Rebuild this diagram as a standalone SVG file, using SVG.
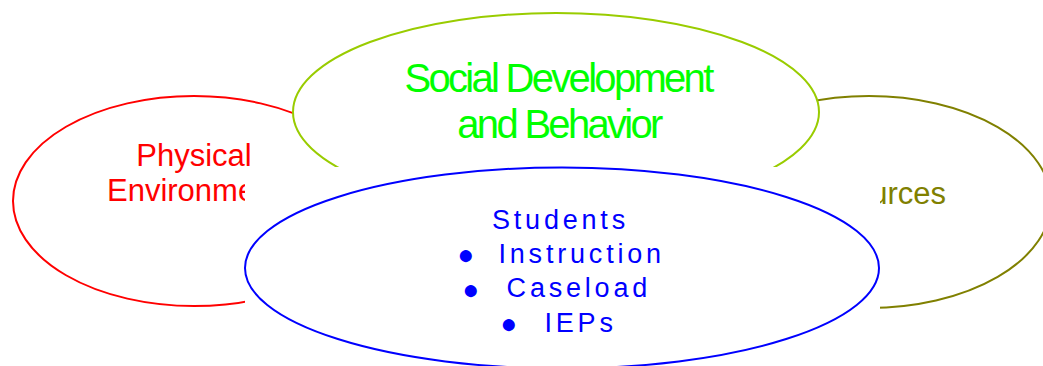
<svg xmlns="http://www.w3.org/2000/svg" width="1043" height="366" viewBox="0 0 1043 366">
<style>
.lbl{font-family:"Liberation Sans",Arial,sans-serif}
.big{font-size:31px}
.soc{font-size:40px;letter-spacing:-2.7px;fill:#00FF00}
.stu{font-size:27px;letter-spacing:3.8px;fill:#0000FF}
.bul{font-size:28px;fill:#0000FF}
</style>
<rect width="1043" height="366" fill="#FFFFFF"/>
<g id="physical-environment">
<ellipse cx="194" cy="201" rx="181" ry="105" fill="#FFFFFF" stroke="#FF0000" stroke-width="2"/>
<text class="lbl big" fill="#FF0000" text-anchor="middle"><tspan x="194" y="166">Physical</tspan><tspan x="194" y="201">Environment</tspan></text>
</g>
<g id="resources">
<ellipse cx="869" cy="202" rx="182" ry="106" fill="#FFFFFF" stroke="#808000" stroke-width="2"/>
<text class="lbl big" fill="#808000" text-anchor="middle" x="872" y="204">Resources</text>
</g>
<g id="social-development">
<ellipse cx="556" cy="112" rx="263" ry="99" fill="#FFFFFF" stroke="#99CC00" stroke-width="2"/>
<text class="lbl soc" text-anchor="middle"><tspan x="558" y="92">Social Development</tspan><tspan x="559" y="138">and Behavior</tspan></text>
</g>
<g id="students">
<rect x="245" y="167" width="635" height="199" fill="#FFFFFF"/>
<ellipse cx="562" cy="268" rx="317" ry="100.5" fill="#FFFFFF" stroke="#0000FF" stroke-width="2"/>
<text class="lbl stu" x="492" y="229">Students</text>
<text class="lbl bul" text-anchor="middle" x="466" y="263.5">●</text>
<text class="lbl stu" x="498.5" y="263">Instruction</text>
<text class="lbl bul" text-anchor="middle" x="471" y="299.3">●</text>
<text class="lbl stu" x="506.6" y="297">Caseload</text>
<text class="lbl bul" text-anchor="middle" x="509" y="332.6">●</text>
<text class="lbl stu" x="544.5" y="332">IEPs</text>
</g>
<g id="connectors"></g>
</svg>
